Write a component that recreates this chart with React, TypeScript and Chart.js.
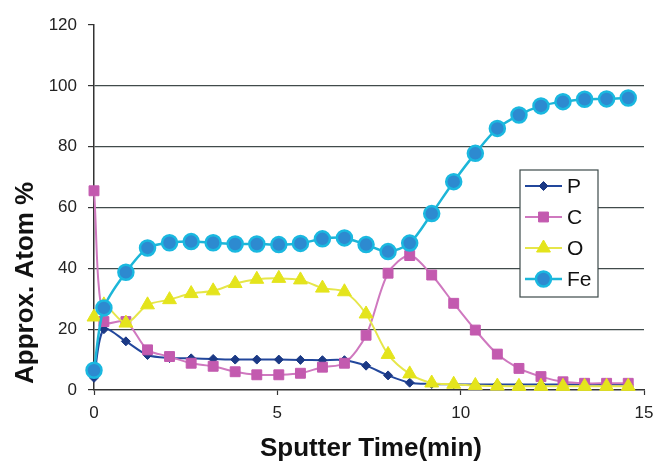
import React, { useEffect, useRef } from "react";
import { Chart, registerables } from "chart.js";

Chart.register(...registerables);

// Sputter time (min)
const times = [0, 0.27, 0.87, 1.46, 2.06, 2.65, 3.25, 3.85, 4.44, 5.04, 5.63, 6.23, 6.83, 7.42, 8.02, 8.61, 9.21, 9.81, 10.4, 11.0, 11.59, 12.19, 12.79, 13.38, 13.98, 14.57];
const seriesP = [4, 20, 16, 11.5, 10.5, 10.4, 10.2, 10, 10, 10, 9.9, 9.8, 9.8, 8, 4.8, 2.4, 2, 1.9, 1.8, 1.8, 1.8, 1.8, 1.8, 1.8, 1.8, 1.8];
const seriesC = [65.5, 22.5, 22.5, 13.2, 11, 8.8, 7.8, 6, 5, 5, 5.5, 7.5, 8.8, 18, 38.4, 44.2, 37.8, 28.5, 19.7, 11.8, 7.1, 4.4, 2.7, 2.2, 2.2, 2.2];
const seriesO = [24, 28, 22, 28, 29.7, 31.7, 32.6, 35, 36.4, 36.7, 36.2, 33.5, 32.3, 25, 11.7, 5.3, 2.3, 1.9, 1.5, 1.3, 1.2, 1.2, 1.2, 1.2, 1.2, 1.2];
const seriesFe = [6.5, 27, 38.7, 46.7, 48.4, 48.8, 48.4, 48, 48, 47.8, 48.2, 49.7, 50, 47.8, 45.5, 48.3, 58, 68.5, 77.8, 86, 90.4, 93.4, 94.8, 95.6, 95.7, 96];

const seriesLabels = ["P", "C", "O", "Fe"];
const yTicks = [0, 20, 40, 60, 80, 100, 120];
const xTicks = [0, 5, 10, 15];

const FONT = '"Liberation Sans", Arial, Helvetica, sans-serif';

function drawMarker(ctx: CanvasRenderingContext2D, style: string, x: number, y: number, r: number) {
  ctx.beginPath();
  if (style === "circle") {
    ctx.arc(x, y, r, 0, Math.PI * 2);
  } else if (style === "rect") {
    const s = r * Math.SQRT1_2;
    ctx.rect(x - s, y - s, 2 * s, 2 * s);
  } else if (style === "triangle") {
    for (let k = 0; k < 3; k++) {
      const a = (k * 2 * Math.PI) / 3;
      const px = x + Math.sin(a) * r;
      const py = y - Math.cos(a) * r;
      if (k === 0) ctx.moveTo(px, py);
      else ctx.lineTo(px, py);
    }
    ctx.closePath();
  } else if (style === "rectRot") {
    ctx.moveTo(x - r, y);
    ctx.lineTo(x, y - r);
    ctx.lineTo(x + r, y);
    ctx.lineTo(x, y + r);
    ctx.closePath();
  }
}

const legendPlugin = {
  id: "boxLegend",
  afterDatasetsDraw(chart: any) {
    const ctx: CanvasRenderingContext2D = chart.ctx;
    const x0 = 520, y0 = 170, w = 78, h = 127;
    ctx.save();
    ctx.fillStyle = "#ffffff";
    ctx.fillRect(x0, y0, w, h);
    ctx.strokeStyle = "#3d4a4a";
    ctx.lineWidth = 1.2;
    ctx.strokeRect(x0, y0, w, h);
    chart.data.datasets.forEach((ds: any, i: number) => {
      const cy = y0 + 16 + i * 31;
      ctx.strokeStyle = ds.borderColor;
      ctx.lineWidth = ds.borderWidth;
      ctx.beginPath();
      ctx.moveTo(x0 + 5, cy);
      ctx.lineTo(x0 + 42, cy);
      ctx.stroke();
      drawMarker(ctx, ds.pointStyle, x0 + 23.5, cy, ds.pointRadius);
      ctx.fillStyle = ds.pointBackgroundColor;
      ctx.fill();
      ctx.strokeStyle = ds.pointBorderColor;
      ctx.lineWidth = ds.pointBorderWidth;
      ctx.stroke();
      ctx.fillStyle = "#111";
      ctx.font = `21px ${FONT}`;
      ctx.textAlign = "left";
      ctx.textBaseline = "middle";
      ctx.fillText(ds.label, x0 + 47, cy + 1);
    });
    ctx.restore();
  },
};

const titlePlugin = {
  id: "axisTitles",
  afterDraw(chart: any) {
    const ctx: CanvasRenderingContext2D = chart.ctx;
    ctx.save();
    ctx.fillStyle = "#111";
    ctx.font = `bold 26px ${FONT}`;
    ctx.textBaseline = "alphabetic";
    ctx.textAlign = "center";
    ctx.fillText("Sputter Time(min)", 371, 456);
    ctx.translate(33, 384);
    ctx.rotate(-Math.PI / 2);
    ctx.textAlign = "left";
    ctx.fillText("Approx. Atom %", 0, 0);
    ctx.restore();
  },
};

export default function App() {
  const ref = useRef<HTMLCanvasElement | null>(null);

  useEffect(() => {
    document.body.style.margin = "0";
    document.body.style.overflow = "hidden";
    const canvas = ref.current;
    if (!canvas) return;
    const mk = (vals: number[]) => times.map((t, i) => ({ x: t, y: vals[i] }));
    const common = { tension: 0.3, clip: false as any, fill: false };
    const chart = new Chart(canvas, {
      type: "line",
      data: {
        datasets: [
          {
            ...common,
            label: seriesLabels[0],
            data: mk(seriesP),
            borderColor: "#22479c",
            borderWidth: 2,
            pointStyle: "rectRot",
            pointRadius: 4.5,
            pointBackgroundColor: "#1b3985",
            pointBorderColor: "#1b3985",
            pointBorderWidth: 1,
            order: 4,
          },
          {
            ...common,
            label: seriesLabels[1],
            data: mk(seriesC),
            borderColor: "#cf78bf",
            borderWidth: 2,
            pointStyle: "rect",
            pointRadius: 7,
            pointBackgroundColor: "#c35aaf",
            pointBorderColor: "#c35aaf",
            pointBorderWidth: 1,
            order: 3,
          },
          {
            ...common,
            label: seriesLabels[2],
            data: mk(seriesO),
            borderColor: "#e6e64a",
            borderWidth: 2,
            pointStyle: "triangle",
            pointRadius: 8,
            pointBackgroundColor: "#e4e41c",
            pointBorderColor: "#e4e41c",
            pointBorderWidth: 1,
            order: 2,
          },
          {
            ...common,
            label: seriesLabels[3],
            data: mk(seriesFe),
            borderColor: "#1cb6d8",
            borderWidth: 2.5,
            pointStyle: "circle",
            pointRadius: 7.5,
            pointBackgroundColor: "#2d8ad0",
            pointBorderColor: "#1ab8e0",
            pointBorderWidth: 2.5,
            order: 1,
          },
        ] as any,
      },
      options: {
        animation: false,
        responsive: true,
        maintainAspectRatio: false,
        devicePixelRatio: 1,
        layout: { padding: { top: 25, right: 0, left: 0, bottom: 0 } },
        plugins: {
          legend: { display: false },
          tooltip: { enabled: false },
        },
        elements: { point: { hoverRadius: 0 } },
        scales: {
          x: {
            type: "linear",
            min: xTicks[0],
            max: xTicks[xTicks.length - 1],
            afterBuildTicks: (s: any) => {
              s.ticks = xTicks.map((v) => ({ value: v }));
            },
            afterFit: (s: any) => {
              s.height = 71;
              s.paddingRight = 9;
              s.paddingLeft = 0;
            },
            ticks: {
              padding: 8,
              color: "#222",
              font: { family: FONT, size: 17 },
              maxRotation: 0,
            },
            grid: {
              drawOnChartArea: false,
              drawTicks: true,
              tickLength: 5,
              tickColor: "#333",
              tickWidth: 1.2,
            },
            border: { display: true, color: "#333", width: 1.5 },
          },
          y: {
            type: "linear",
            min: yTicks[0],
            max: yTicks[yTicks.length - 1],
            afterBuildTicks: (s: any) => {
              s.ticks = yTicks.map((v) => ({ value: v }));
            },
            afterFit: (s: any) => {
              s.width = 94;
            },
            ticks: {
              padding: 11,
              color: "#222",
              font: { family: FONT, size: 17 },
            },
            grid: {
              color: (c: any) =>
                c.tick && (c.tick.value === 0 || c.tick.value === 120) ? "rgba(0,0,0,0)" : "#414b4b",
              lineWidth: 1.2,
              drawTicks: true,
              tickLength: 6,
              tickColor: "#333",
              tickWidth: 1.2,
            },
            border: { display: true, color: "#333", width: 1.5 },
          },
        },
      },
      plugins: [legendPlugin, titlePlugin],
    });
    return () => chart.destroy();
  }, []);

  return (
    <div style={{ position: "fixed", left: 0, top: 0, width: 654, height: 461, background: "#fff" }}>
      <canvas ref={ref} />
    </div>
  );
}
